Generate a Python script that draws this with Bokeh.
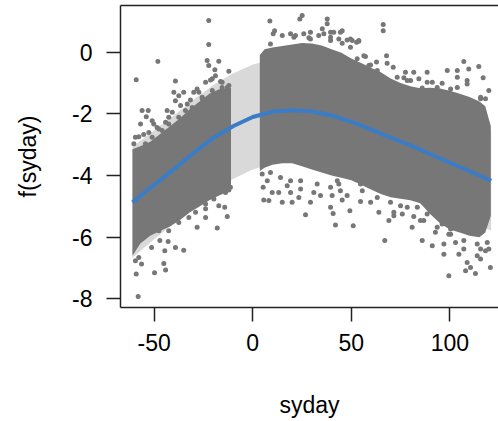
from bokeh.plotting import figure
from bokeh.models import LinearAxis, FixedTicker, Range1d
from bokeh.embed import file_html
from bokeh.resources import INLINE

# ---- smooth term and its confidence band ----
fit_x = [-61, -50, -40, -30, -20, -10, 0, 10, 20, 30, 40, 50, 60, 70, 80, 90, 100, 110, 121]
fit_y = [-4.87, -4.30, -3.80, -3.27, -2.78, -2.40, -2.10, -1.93, -1.88, -1.92, -2.05, -2.25,
         -2.50, -2.77, -3.02, -3.30, -3.58, -3.86, -4.17]
band_hi = [-3.07, -2.53, -2.05, -1.54, -1.06, -0.69, -0.40, -0.24, -0.20, -0.25, -0.39, -0.60,
           -0.85, -1.12, -1.37, -1.66, -1.95, -2.24, -2.55]
band_lo = [-6.67, -6.07, -5.55, -5.00, -4.50, -4.11, -3.80, -3.62, -3.56, -3.59, -3.71, -3.90,
           -4.15, -4.42, -4.67, -4.94, -5.21, -5.48, -5.79]

# ---- dense cores of the partial-residual clouds (envelopes) ----
coreA_x = [-61, -57, -52, -47, -42, -37, -32, -27, -22, -17, -12, -11]
coreA_top = [-3.15, -3.05, -2.9, -2.65, -2.4, -2.15, -1.85, -1.6, -1.35, -1.2, -1.15, -1.15]
coreA_bot = [-6.6, -6.2, -5.95, -5.8, -5.65, -5.45, -5.2, -5.0, -4.8, -4.65, -4.5, -4.4]

coreB_x = [3.6, 6, 10, 15, 20, 25, 30, 35, 40, 45, 50, 55, 60, 65, 70, 75, 80, 85, 90, 95,
           100, 105, 110, 115, 118, 120.8]
coreB_top = [-0.1, 0.1, 0.15, 0.2, 0.25, 0.3, 0.28, 0.22, 0.1, -0.02, -0.2, -0.35, -0.5,
             -0.65, -0.85, -1.0, -1.1, -1.17, -1.15, -1.18, -1.25, -1.35, -1.45, -1.6, -1.75, -2.4]
coreB_bot = [-3.85, -3.75, -3.65, -3.6, -3.6, -3.7, -3.8, -3.9, -4.0, -4.07, -4.15, -4.3,
             -4.45, -4.6, -4.7, -4.75, -4.8, -4.9, -5.25, -5.55, -5.75, -5.85, -5.95, -6.0, -5.85, -5.3]

# ---- scattered residual points outside / along the edges of the dense cores ----
pts_x = [
    -22.3, -22.3, -23.1, -17.2, -48.1, -59.1, -39.2, -22.3, -19.2, -12.1, -18.9, -21.4, -16.3,
    -40.0, -35.0, -37.5, -28.2, -29.9, -56.1, -53.0, -54.0, -56.9, -57.8, -55.3, -50.2, -48.5,
    -40.8, -39.2, -36.6, -33.2, -42.6, -44.2, -23.9, -20.5, -15.5, -12.9, -25.6, -31.6, -43.4,
    -52.7, -51.0, -47.6, -59.5, -60.3,
    -54.4, -51.0, -45.9, -42.6, -37.5, -34.1, -30.7, -25.6, -20.5, -15.5, -12.1, -27.3,
    -12.1, -17.2, -14.2, -12.9, -23.9, -23.9, -18.0, -28.2, -35.0, -39.2, -42.9, -47.1, -44.6,
    -45.1, -44.2, -49.8, -51.3, -56.4, -59.1, -58.1, -59.5, -57.8, -18.0,
    -54.4, -47.6, -42.6, -37.5, -32.4, -29.0, -23.9, -19.7, -13.8, -11.3,
    8.7, 11.1, 10.4, 25.1, 23.9, 37.8, 37.8, 66.2, 66.2, 21.7, 25.9, 28.5, 35.3, 36.1, 41.1,
    44.5, 39.5, 47.9, 50.5, 53.8, 45.4, 49.6, 57.2, 53.0, 58.9, 62.8, 67.9, 68.2, 71.3, 58.9,
    63.2, 77.5, 81.7, 88.5, 76.7, 80.1, 91.1, 96.1, 98.7, 103.8, 107.1, 109.6, 114.7, 116.9,
    108.8, 103.8, 119.8, 118.1, 115.6, 100.4, 93.6, 86.0, 84.3, 39.5, 45.4, 20.9, 29.3, 49.6,
    53.8, 56.4, 59.8, 62.3,
    9.0, 15.0, 19.2, 29.3, 33.5, 39.5, 43.7, 52.7, 63.2, 73.3, 78.4, 88.5, 93.6, 103.8, 108.8,
    115.6,
    4.8, 5.3, 5.6, 8.2, 9.9, 15.0, 20.0, 19.2, 23.4, 26.8, 29.3, 34.4, 39.5, 40.3, 39.5, 40.8,
    42.0, 44.5, 45.4, 49.3, 51.0, 55.6, 54.7, 59.8, 64.0, 67.0, 69.1, 71.6, 75.9, 78.4, 80.9,
    81.7, 86.0, 85.1, 91.1, 97.0, 97.0, 99.5, 102.9, 104.6, 107.1, 108.8, 115.6, 118.1, 119.8,
    115.6, 120.6, 110.5, 113.9, 99.5, 108.0, 113.0, 100.4, 96.1, 92.7, 86.8, 71.6,
    7.4, 13.2, 17.5, 24.3, 31.0, 43.7, 47.9,
    9.0, 14.1, 19.2, 24.3, 32.7, 42.9, 54.7, 63.2, 69.9, 75.0, 83.5, 88.5, 93.6, 100.4, 107.1,
    113.9, 119.0,
]
pts_y = [
    1.03, 0.25, -0.27, -0.29, -0.30, -0.89, -0.93, -0.43, -0.57, -0.62, -0.76, -0.90, -0.95,
    -1.30, -1.30, -1.41, -1.19, -1.30, -1.89, -1.89, -2.09, -2.33, -2.74, -2.67, -2.33, -2.44,
    -1.95, -1.57, -1.73, -1.68, -2.11, -2.27, -0.97, -0.86, -0.97, -1.14, -1.46, -1.55, -1.89,
    -2.60, -2.22, -2.49, -2.76, -2.97,
    -2.97, -2.76, -2.54, -2.33, -2.11, -1.89, -1.79, -1.51, -1.24, -1.14, -1.08, -1.30,
    -4.47, -4.98, -5.03, -5.33, -5.08, -5.36, -5.70, -5.68, -6.42, -6.33, -6.14, -6.11, -6.44,
    -6.85, -7.06, -7.15, -6.33, -6.87, -7.19, -7.92, -6.76, -6.66, -4.55,
    -5.90, -5.79, -5.79, -5.52, -5.36, -5.19, -4.92, -4.76, -4.55, -4.38,
    1.01, 0.70, 0.60, 1.19, 1.08, 1.08, 0.92, 0.90, 0.70, 0.54, 0.60, 0.47, 0.76, 0.60, 0.65,
    0.65, 0.49, 0.40, 0.38, 0.36, 0.29, 0.16, -0.14, -0.21, -0.43, -0.32, -0.11, -0.36, -0.49,
    -0.65, -0.68, -0.65, -0.65, -0.65, -0.83, -0.92, -0.97, -1.01, -0.59, -0.59, -0.30, -0.54,
    -0.46, -0.83, -0.92, -0.81, -1.24, -1.51, -1.51, -1.19, -1.22, -1.16, -0.86, 0.65, 0.70,
    0.49, 0.43, 0.43, 0.38, -0.11, -0.41, -0.76,
    0.27, 0.54, 0.60, 0.65, 0.54, 0.38, 0.43, 0.32, -0.59, -0.81, -0.92, -0.97, -1.14, -1.14,
    -1.03, -1.46,
    -3.95, -4.38, -4.79, -4.81, -4.55, -4.87, -4.87, -4.55, -4.71, -5.27, -4.87, -4.65, -4.38,
    -4.65, -5.03, -5.23, -5.60, -4.49, -4.79, -5.14, -5.63, -4.49, -4.84, -4.87, -5.19, -6.11,
    -5.46, -5.19, -5.25, -5.03, -5.68, -5.33, -6.11, -5.46, -6.28, -6.22, -6.55, -5.90, -6.17,
    -6.55, -6.38, -6.82, -6.71, -6.44, -6.38, -6.38, -6.98, -6.98, -6.60, -7.25, -7.09, -7.18,
    -5.73, -5.57, -5.84, -5.46, -5.30,
    -4.17, -4.55, -4.33, -4.44, -4.55, -4.27, -4.65,
    -3.90, -4.06, -4.17, -4.17, -4.27, -4.17, -4.27, -4.71, -4.87, -4.98, -5.03, -5.25, -5.68,
    -5.90, -6.11, -6.22, -6.17,
]

x_ticks = [-50, 0, 50, 100]
x_tick_labels = ["-50", "0", "50", "100"]
y_ticks = [-8, -6, -4, -2, 0]
y_tick_labels = ["-8", "-6", "-4", "-2", "0"]

PT = "#777777"
BAND = "#D9D9D9"
LINE = "#3A7DC6"
FONT = "Liberation Sans"
FS = "23px"

p = figure(width=498, height=421,
           x_range=Range1d(-67.07, 124.7), y_range=Range1d(-8.28, 1.516),
           output_backend="svg", toolbar_location=None,
           min_border_left=120, min_border_right=0, min_border_top=5, min_border_bottom=114,
           x_axis_label="syday", y_axis_label="f(syday)")
p.outline_line_color = None
p.xgrid.visible = False
p.ygrid.visible = False
p.background_fill_color = "white"
p.border_fill_color = "white"

p.varea(x=fit_x, y1=band_lo, y2=band_hi, fill_color=BAND)
p.varea(x=coreA_x, y1=coreA_bot, y2=coreA_top, fill_color=PT)
p.varea(x=coreB_x, y1=coreB_bot, y2=coreB_top, fill_color=PT)
p.scatter(x=pts_x, y=pts_y, size=5, fill_color=PT, line_color=None)
p.line(x=fit_x, y=fit_y, line_color=LINE, line_width=4)

for ax, ticks, labels in ((p.xaxis[0], x_ticks, x_tick_labels), (p.yaxis[0], y_ticks, y_tick_labels)):
    ax.ticker = FixedTicker(ticks=ticks)
    ax.major_label_overrides = dict(zip(ticks, labels))
    ax.axis_line_color = "#222222"
    ax.axis_line_width = 1.5
    ax.major_tick_line_color = "#222222"
    ax.major_tick_line_width = 1.5
    ax.major_tick_out = 14
    ax.major_tick_in = 0
    ax.minor_tick_line_color = None
    ax.major_label_text_font = FONT
    ax.major_label_text_font_size = FS
    ax.major_label_text_color = "black"
    ax.axis_label_text_font = FONT
    ax.axis_label_text_font_size = FS
    ax.axis_label_text_font_style = "normal"
    ax.axis_label_text_color = "black"

p.xaxis[0].major_label_standoff = 12
p.xaxis[0].axis_label_standoff = 38
p.yaxis[0].major_label_standoff = 14
p.yaxis[0].axis_label_standoff = 28

top = LinearAxis(ticker=FixedTicker(ticks=[]), major_tick_out=0, major_tick_in=0,
                 minor_tick_out=0, minor_tick_in=0, major_label_text_font_size="0px",
                 axis_line_color="#222222", axis_line_width=1.5)
p.add_layout(top, "above")

open("out.html", "w").write(file_html(p, INLINE))
